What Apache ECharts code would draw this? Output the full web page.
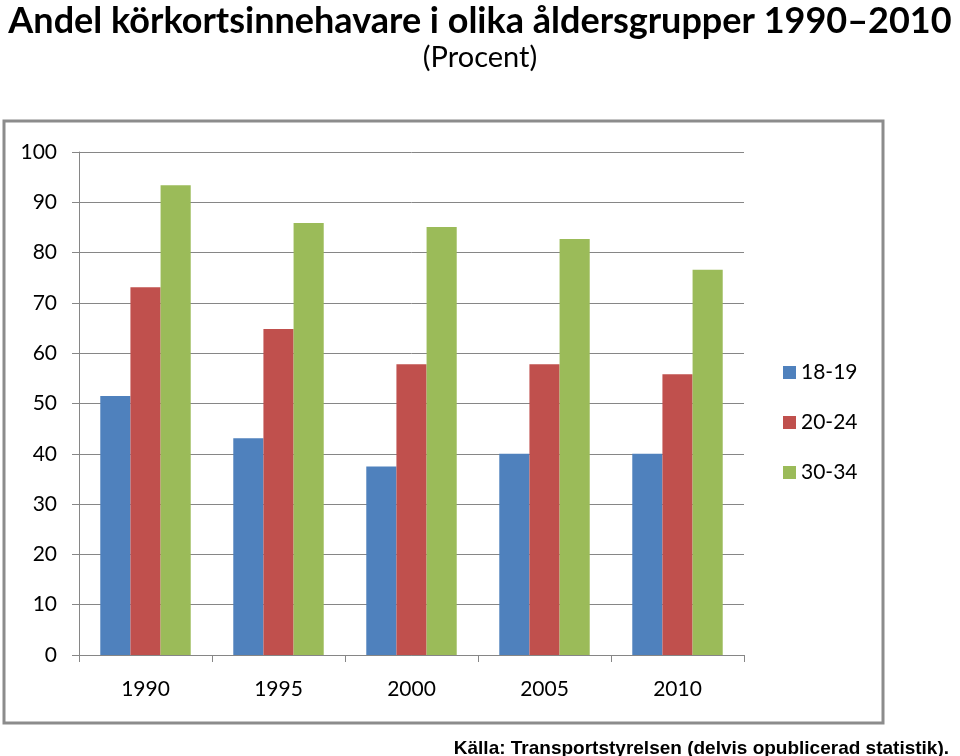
<!DOCTYPE html>
<html>
<head>
<meta charset="utf-8">
<script src="https://cdn.jsdelivr.net/npm/echarts@6/dist/echarts.min.js"></script>
<style>
  html, body { margin: 0; padding: 0; background: #fff; }
  #chart { width: 960px; height: 756px; }
</style>
</head>
<body>
<div id="chart"></div>
<script>
const years = ['1990', '1995', '2000', '2005', '2010']
const age18to19 = [51.5, 43.1, 37.5, 40.0, 40.0]
const age20to24 = [73.1, 64.8, 57.8, 57.8, 55.8]
const age30to34 = [93.4, 85.9, 85.1, 82.7, 76.6]
const seriesNames = ['18-19', '20-24', '30-34']
const colors = ['#4F81BD', '#C0504D', '#9BBB59']

const chart = echarts.init(document.getElementById('chart'))
const axisFont = 'Lato, "Open Sans", sans-serif'

const option = {
  backgroundColor: '#fff',
  animation: false,
  color: colors,
  title: [
    {
      text: 'Andel körkortsinnehavare i olika åldersgrupper 1990–2010',
      left: 'center',
      top: -2,
      textStyle: { fontFamily: axisFont, fontWeight: 'bold', fontSize: 36, color: '#000' }
    },
    {
      text: '(Procent)',
      left: 'center',
      top: 38,
      textStyle: { fontFamily: axisFont, fontWeight: 'normal', fontSize: 29, color: '#000' }
    },
    {
      text: 'Källa: Transportstyrelsen (delvis opublicerad statistik).',
      right: 6,
      top: 734,
      textStyle: { fontFamily: '"Liberation Sans Narrow", "Liberation Sans", Arial, sans-serif', fontWeight: 'bold', fontSize: 19, color: '#000' }
    }
  ],
  graphic: [
    {
      type: 'rect',
      shape: { x: 4, y: 121, width: 879, height: 602 },
      style: { fill: 'none', stroke: '#8c8c8c', lineWidth: 3 },
      silent: true
    }
  ],
  legend: {
    orient: 'vertical',
    left: 783,
    top: 362,
    padding: 0,
    itemWidth: 13,
    itemHeight: 13,
    itemGap: 29,
    itemTextGap: 7,
    icon: 'rect',
    textStyle: { fontFamily: axisFont, fontSize: 21, color: '#000' },
    data: seriesNames
  },
  grid: { left: 79, right: 216, top: 152, bottom: 101 },
  xAxis: {
    type: 'category',
    data: years,
    axisLine: { lineStyle: { color: '#868686', width: 1 } },
    axisTick: { show: true, length: 7, alignWithLabel: false, lineStyle: { color: '#868686' } },
    axisLabel: { fontFamily: axisFont, fontSize: 21, color: '#000', margin: 24 }
  },
  yAxis: {
    type: 'value',
    min: 0,
    max: 100,
    interval: 10,
    axisLine: { show: true, lineStyle: { color: '#868686', width: 1 } },
    axisTick: { show: true, length: 7, lineStyle: { color: '#868686' } },
    axisLabel: { fontFamily: axisFont, fontSize: 21, color: '#000', margin: 22 },
    splitLine: { lineStyle: { color: '#868686', width: 1 } }
  },
  series: [
    { name: seriesNames[0], type: 'bar', data: age18to19, barGap: '0%', barCategoryGap: '32%' },
    { name: seriesNames[1], type: 'bar', data: age20to24, barGap: '0%', barCategoryGap: '32%' },
    { name: seriesNames[2], type: 'bar', data: age30to34, barGap: '0%', barCategoryGap: '32%' }
  ]
}

chart.setOption(option)
</script>
</body>
</html>
